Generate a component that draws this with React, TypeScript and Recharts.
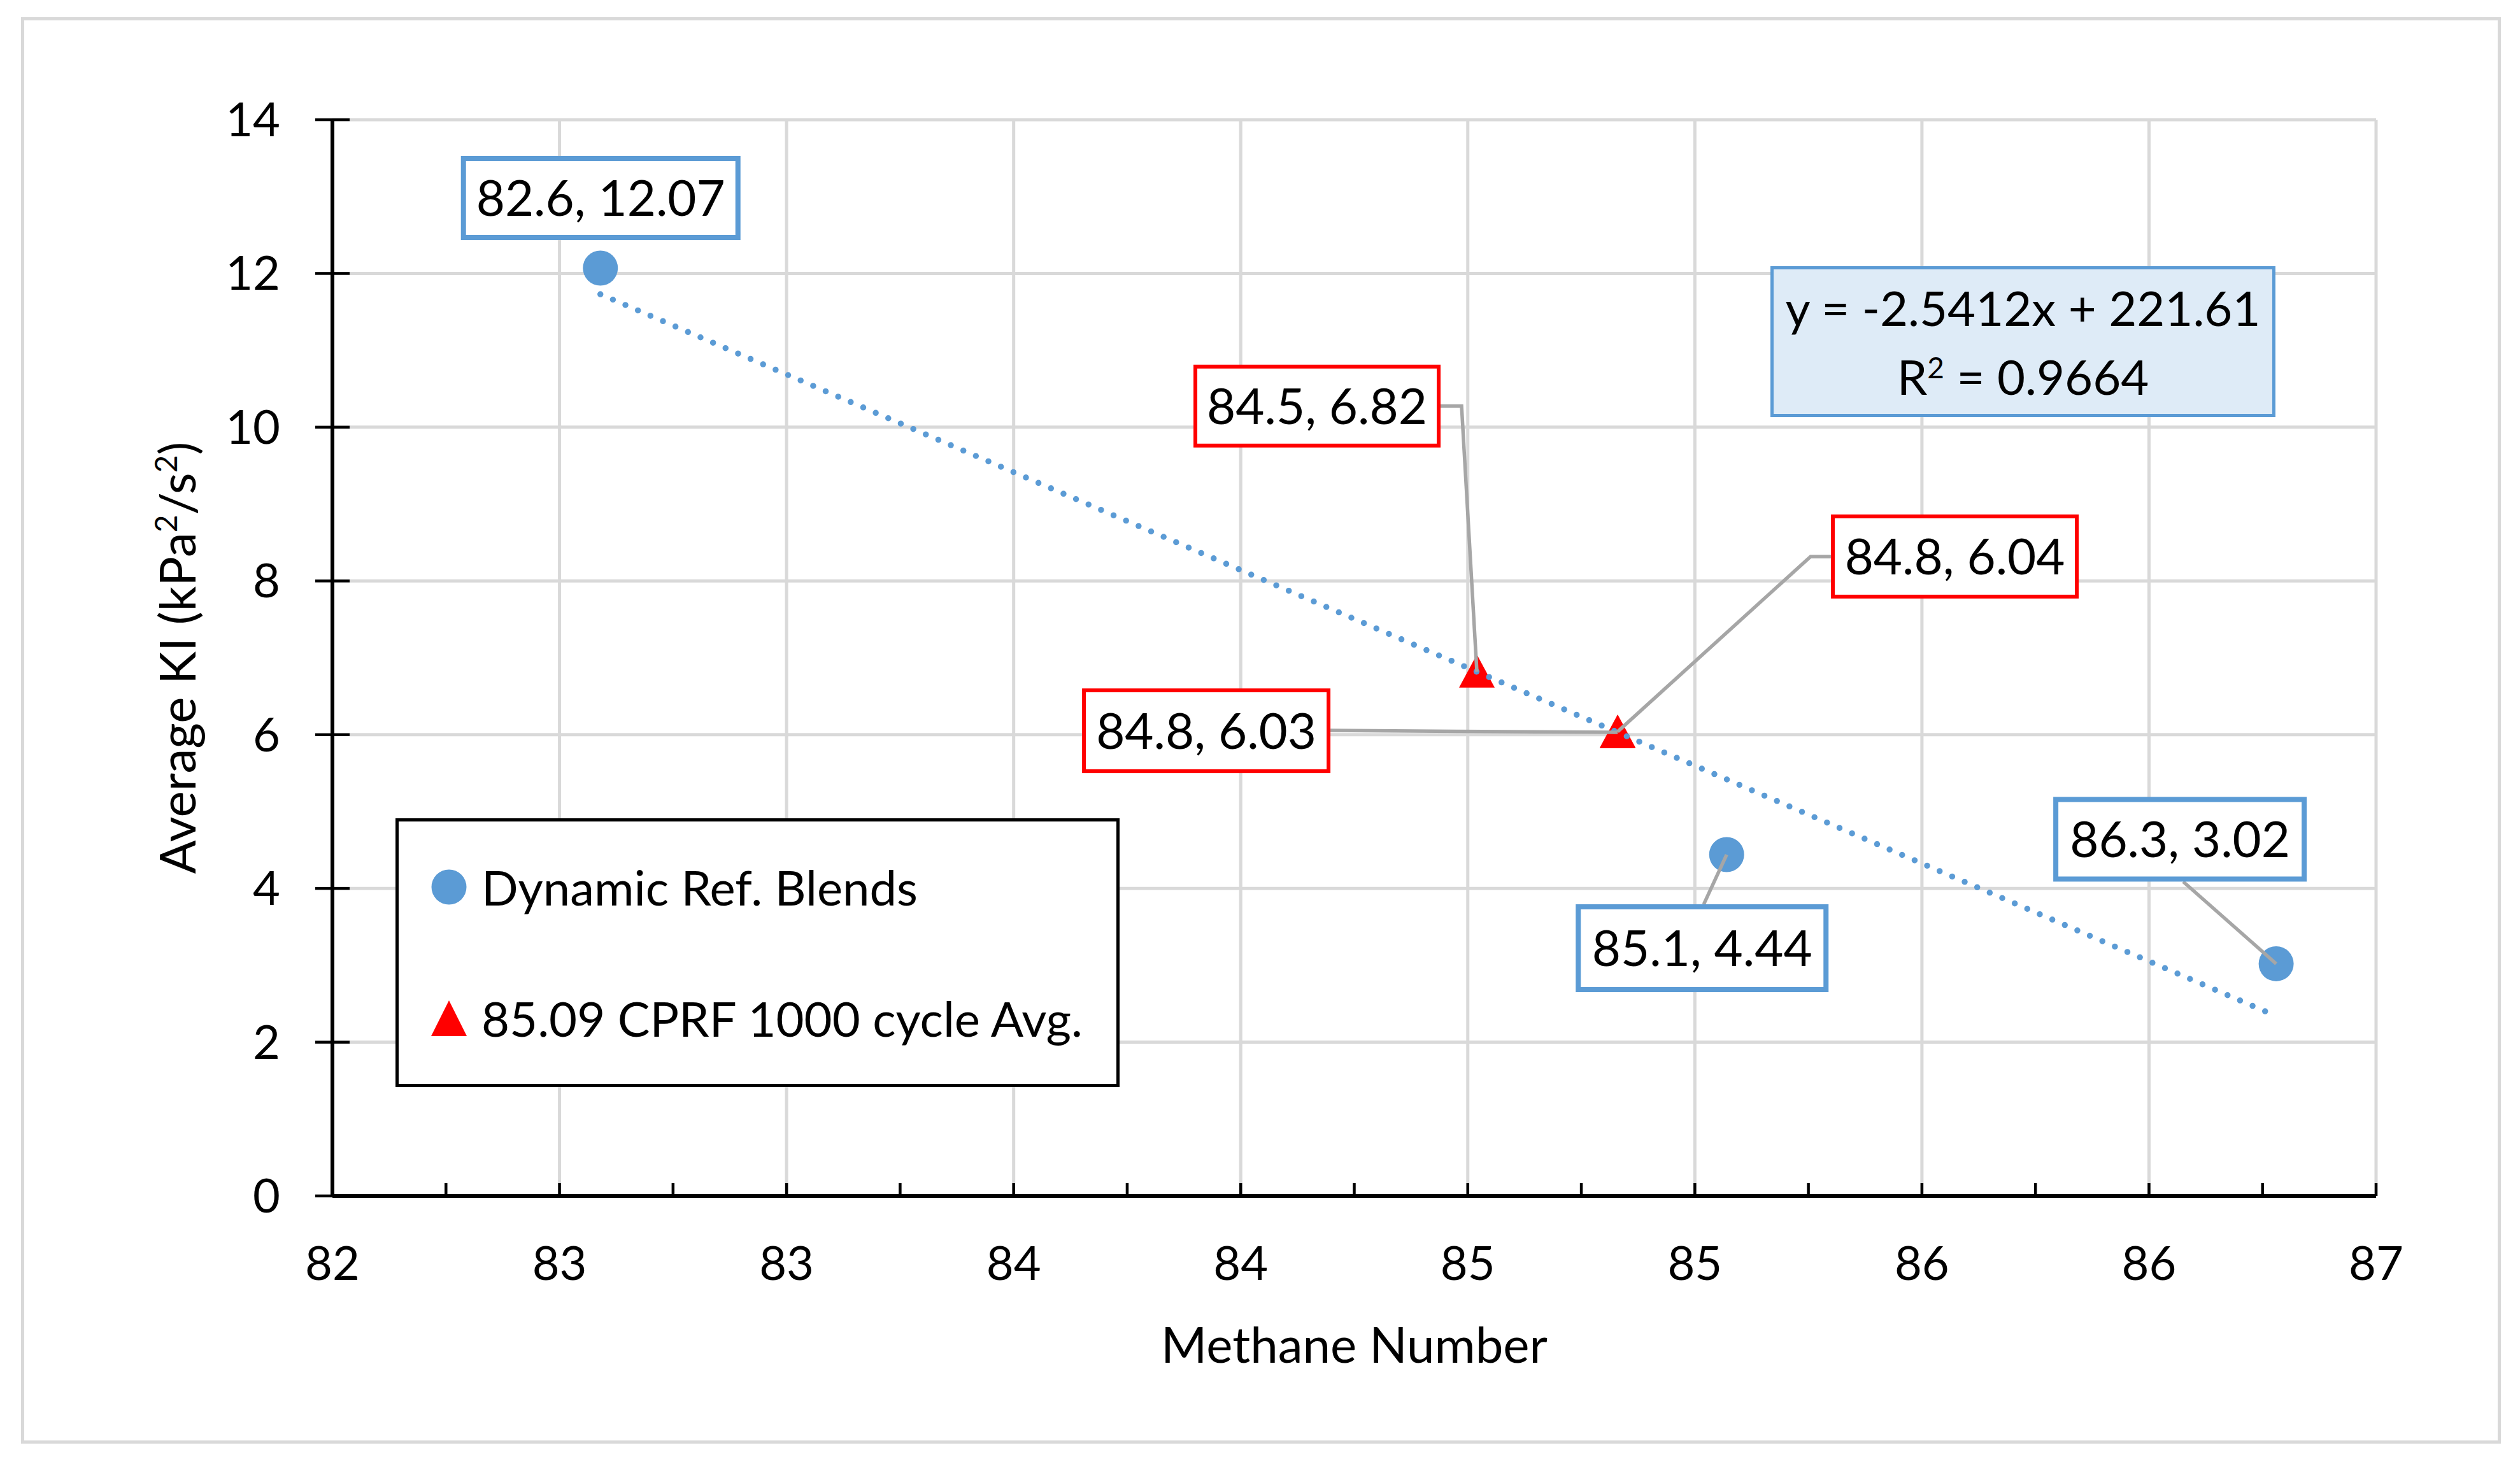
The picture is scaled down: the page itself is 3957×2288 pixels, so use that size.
import React from 'react';
import { ScatterChart, Scatter, XAxis, YAxis, CartesianGrid, Legend } from 'recharts';

const W = 3957;
const H = 2288;
const FONT = "Lato, 'Open Sans', sans-serif";
const FS = 78;
const BLUE = '#5B9BD5';
const RED = '#FF0000';
const GRID = '#D9D9D9';
const LEADER = '#A6A6A6';

// values
const blendMN = [82.59, 85.07, 86.28];
const blendKI = [12.07, 4.44, 3.02];
const cprfMN = [84.52, 84.83, 84.83];
const cprfKI = [6.82, 6.03, 6.04];
const trendMN = [82.59, 86.28];
const trendKI = [11.73, 2.34];
const seriesNames = ['Dynamic Ref. Blends', '85.09 CPRF 1000 cycle Avg.'];
const trendEq = 'y = -2.5412x + 221.61';
const trendR2 = '0.9664';
const xTicks = [82, 82.5, 83, 83.5, 84, 84.5, 85, 85.5, 86, 86.5];
const xMinorTicks = [
  82, 82.25, 82.5, 82.75, 83, 83.25, 83.5, 83.75, 84, 84.25, 84.5, 84.75, 85, 85.25, 85.5,
  85.75, 86, 86.25, 86.5,
];
const yTicks = [0, 2, 4, 6, 8, 10, 12, 14];

const toPoints = (xs: number[], ys: number[]) => xs.map((x, i) => ({ x, y: ys[i], i }));
const blendData = toPoints(blendMN, blendKI);
const cprfData = toPoints(cprfMN, cprfKI);
const trendData = toPoints(trendMN, trendKI);

// callout boxes: offset of box from its marker, size, leader bend points (box-relative)
type Box = { dx: number; dy: number; w: number; h: number; leader: number[][] };
const blendBoxes: Box[] = [
  { dx: -219, dy: -176, w: 439, h: 132, leader: [] },
  { dx: -237, dy: 78, w: 397, h: 138, leader: [[201, 0]] },
  { dx: -350, dy: -262, w: 398, h: 133, leader: [[204, 133]] },
];
const cprfBoxes: Box[] = [
  { dx: -445, dy: -482, w: 388, h: 130, leader: [[388, 65], [421, 65]] },
  { dx: -841, dy: -69, w: 390, h: 133, leader: [[390, 66]] },
  { dx: 335, dy: -341, w: 389, h: 132, leader: [[0, 66], [-32, 66]] },
];

const pointLabel = (p: any) => `${p.x.toFixed(1)}, ${p.y.toFixed(2)}`;

const Dot = (p: any) => <circle cx={p.cx} cy={p.cy} r={27.5} fill={BLUE} />;
const Tri = (p: any) => (
  <polygon
    points={`${p.cx},${p.cy - 27} ${p.cx - 28},${p.cy + 25} ${p.cx + 28},${p.cy + 25}`}
    fill={RED}
  />
);

const makeCallout = (boxes: Box[], color: string, bw: number) => (p: any) => {
  const b = boxes[p.payload.i];
  const bx = p.cx + b.dx;
  const by = p.cy + b.dy;
  const pts = [...b.leader.map(([lx, ly]) => [bx + lx, by + ly]), [p.cx, p.cy]];
  return (
    <g>
      {b.leader.length > 0 && (
        <polyline
          points={pts.map((q) => q.join(',')).join(' ')}
          fill="none"
          stroke={LEADER}
          strokeWidth={5.5}
        />
      )}
      <rect
        x={bx + bw / 2}
        y={by + bw / 2}
        width={b.w - bw}
        height={b.h - bw}
        fill="#fff"
        stroke={color}
        strokeWidth={bw}
      />
      <text
        x={bx + b.w / 2}
        y={by + b.h / 2 + FS * 0.36}
        textAnchor="middle"
        fontSize={FS}
        fontFamily={FONT}
        fill="#000"
      >
        {pointLabel(p.payload)}
      </text>
    </g>
  );
};

const NoTick = () => <g />;

const XTick = (p: any) => (
  <text x={p.x} y={p.y + 132} textAnchor="middle" fontSize={74} fontFamily={FONT} fill="#000">
    {Math.round(p.payload.value)}
  </text>
);

const YTick = (p: any) => (
  <text x={p.x} y={p.y + 26} textAnchor="end" fontSize={74} fontFamily={FONT} fill="#000">
    {p.payload.value}
  </text>
);

const XTitle = (props: any) => {
  const vb = props.viewBox;
  return (
    <text
      x={vb.x + vb.width / 2}
      y={vb.y + 262}
      textAnchor="middle"
      fontSize={FS}
      fontFamily={FONT}
      fill="#000"
    >
      Methane Number
    </text>
  );
};

const YTitle = (props: any) => {
  const vb = props.viewBox;
  const x = vb.x + 47;
  const y = vb.y + vb.height / 2;
  return (
    <text
      x={x}
      y={y}
      transform={`rotate(-90 ${x} ${y})`}
      textAnchor="middle"
      fontSize={FS}
      fontFamily={FONT}
      fill="#000"
    >
      Average KI (kPa
      <tspan dy={-29} fontSize={48}>2</tspan>
      <tspan dy={29}>/s</tspan>
      <tspan dy={-29} fontSize={48}>2</tspan>
      <tspan dy={29}>)</tspan>
    </text>
  );
};

const LegendBox = (props: any) => {
  const items = (props.payload || [])
    .filter((e: any) => seriesNames.includes(e.value))
    .sort((a: any, b: any) => seriesNames.indexOf(a.value) - seriesNames.indexOf(b.value));
  return (
    <div
      style={{
        boxSizing: 'border-box',
        width: '100%',
        height: '100%',
        border: '5.5px solid #000',
        background: '#fff',
        display: 'flex',
        flexDirection: 'column',
        justifyContent: 'space-around',
        paddingLeft: 51,
      }}
    >
      {items.map((e: any) => (
        <div key={e.value} style={{ display: 'flex', alignItems: 'center' }}>
          <svg width={56} height={56}>
            {e.type === 'triangle' ? (
              <polygon points="28,0 0,56 56,56" fill={RED} />
            ) : (
              <circle cx={28} cy={28} r={27.5} fill={BLUE} />
            )}
          </svg>
          <span style={{ marginLeft: 23, fontSize: 76, fontFamily: FONT, lineHeight: 1, color: '#000' }}>
            {e.value}
          </span>
        </div>
      ))}
    </div>
  );
};

const axisLine = { stroke: '#000', strokeWidth: 6 };
const tickLine = { stroke: '#000', strokeWidth: 4.5 };

export default function App() {
  return (
    <div style={{ position: 'absolute', left: 0, top: 0, width: W, height: H, background: '#fff' }}>
      <div
        style={{
          position: 'absolute',
          left: 33,
          top: 27,
          width: 3894,
          height: 2240,
          boxSizing: 'border-box',
          border: `5px solid ${GRID}`,
        }}
      />
      <ScatterChart width={W} height={H} margin={{ top: 188, right: 226, bottom: 150, left: 260 }}>
        <CartesianGrid stroke={GRID} strokeWidth={5} />
        <XAxis
          dataKey="x"
          type="number"
          domain={[82, 86.5]}
          allowDataOverflow
          ticks={xTicks}
          interval={0}
          height={260}
          tickSize={0}
          tickMargin={0}
          tickLine={false}
          axisLine={axisLine}
          tick={<XTick />}
          label={<XTitle />}
        />
        <XAxis
          xAxisId="minor"
          dataKey="x"
          type="number"
          domain={[82, 86.5]}
          allowDataOverflow
          ticks={xMinorTicks}
          interval={0}
          mirror
          tick={<NoTick />}
          tickSize={20}
          tickLine={tickLine}
          axisLine={false}
        />
        <XAxis
          xAxisId="top"
          orientation="top"
          dataKey="x"
          type="number"
          domain={[82, 86.5]}
          allowDataOverflow
          height={0}
          tick={false}
          tickLine={false}
          axisLine={axisLine}
        />
        <YAxis
          dataKey="y"
          type="number"
          domain={[0, 14]}
          allowDataOverflow
          ticks={yTicks}
          interval={0}
          width={262}
          tickSize={27}
          tickMargin={55}
          tickLine={tickLine}
          axisLine={axisLine}
          tick={<YTick />}
          label={<YTitle />}
        />
        <YAxis
          yAxisId="inner"
          dataKey="y"
          type="number"
          domain={[0, 14]}
          allowDataOverflow
          ticks={yTicks}
          interval={0}
          mirror
          tick={<NoTick />}
          tickSize={27}
          tickLine={tickLine}
          axisLine={false}
        />
        <YAxis
          yAxisId="right"
          orientation="right"
          dataKey="y"
          type="number"
          domain={[0, 14]}
          allowDataOverflow
          width={0}
          tick={false}
          tickLine={false}
          axisLine={axisLine}
        />
        <Legend
          layout="vertical"
          verticalAlign="middle"
          align="center"
          width={1137}
          height={422}
          wrapperStyle={{ left: 621, top: 1285, width: 1137, height: 422 }}
          content={<LegendBox />}
        />
        <Scatter
          name={seriesNames[0]}
          data={blendData}
          fill={BLUE}
          legendType="circle"
          shape={Dot}
          isAnimationActive={false}
        />
        <Scatter
          name={seriesNames[1]}
          data={cprfData}
          fill={RED}
          legendType="triangle"
          shape={Tri}
          isAnimationActive={false}
        />
        <Scatter
          name="trend"
          data={trendData}
          fill={BLUE}
          legendType="none"
          line={{ stroke: BLUE, strokeWidth: 9.5, strokeDasharray: '0 21.4', strokeLinecap: 'round' }}
          shape={() => <g />}
          isAnimationActive={false}
        />
        <Scatter
          name="blend labels"
          data={blendData}
          legendType="none"
          shape={makeCallout(blendBoxes, BLUE, 8)}
          isAnimationActive={false}
        />
        <Scatter
          name="cprf labels"
          data={cprfData}
          legendType="none"
          shape={makeCallout(cprfBoxes, RED, 6)}
          isAnimationActive={false}
        />
      </ScatterChart>
      <div
        style={{
          position: 'absolute',
          left: 2780,
          top: 418,
          width: 793,
          height: 237,
          boxSizing: 'border-box',
          border: `5px solid ${BLUE}`,
          background: '#DEEBF7',
          display: 'flex',
          flexDirection: 'column',
          alignItems: 'center',
          justifyContent: 'center',
          fontFamily: FONT,
          fontSize: 76,
          lineHeight: '108px',
          color: '#000',
        }}
      >
        <div>{trendEq}</div>
        <div>
          R<sup style={{ fontSize: 46, lineHeight: 0 }}>2</sup> = {trendR2}
        </div>
      </div>
    </div>
  );
}
